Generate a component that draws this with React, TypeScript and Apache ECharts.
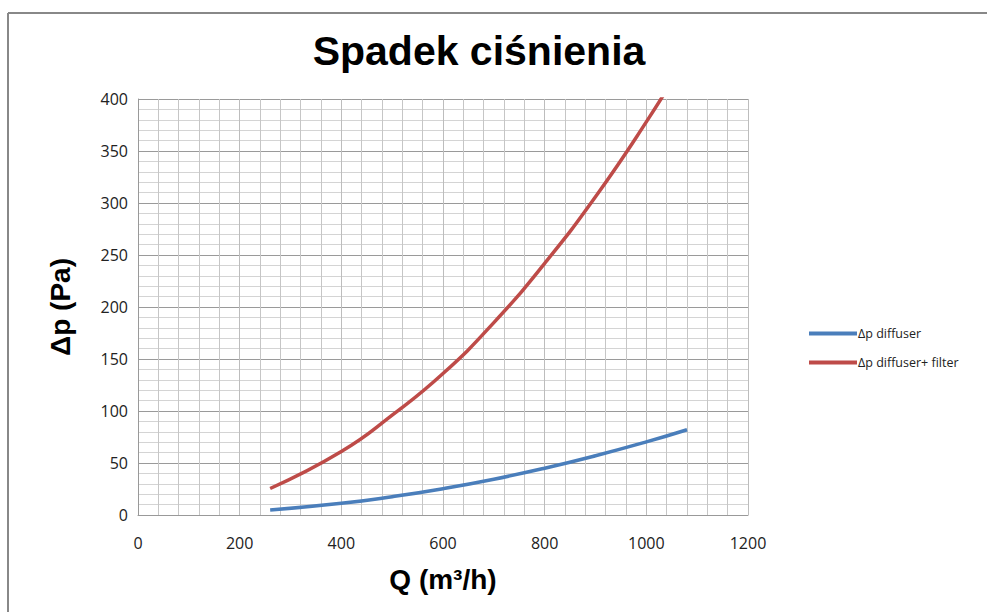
import React, { useEffect, useRef } from "react";
import * as echarts from "echarts";

const seriesNames = ["Δp diffuser", "Δp diffuser+ filter"];
const diffuserQ = [260, 400, 500, 600, 700, 800, 900, 1000, 1080];
const diffuserDp = [4.8, 11.2, 17.6, 25.3, 34.4, 45, 57, 70.3, 82];
const filterQ = [260, 400, 500, 600, 700, 800, 900, 1000, 1080];
const filterDp = [25.5, 61, 96, 136, 185, 242, 306, 378, 441];
const xTicks = [0, 200, 400, 600, 800, 1000, 1200];
const yTicks = [0, 50, 100, 150, 200, 250, 300, 350, 400];

export default function App() {
  const ref = useRef<HTMLDivElement>(null);
  useEffect(() => {
    if (!ref.current) return;
    const chart = echarts.init(ref.current, null, { renderer: "svg" });
    const tickFont = { fontFamily: "Open Sans", fontSize: 16, color: "#222" };
    chart.setOption({
      animation: false,
      backgroundColor: "#fff",
      title: {
        text: "Spadek ciśnienia",
        left: 474,
        top: 25,
        textAlign: "center",
        textStyle: { fontFamily: "Liberation Sans", fontWeight: "bold", fontSize: 41, color: "#000" },
      },
      graphic: [
        { type: "line", shape: { x1: 8, y1: 13, x2: 987, y2: 13 }, style: { stroke: "#888", lineWidth: 2 } },
        { type: "line", shape: { x1: 8, y1: 13, x2: 8, y2: 612 }, style: { stroke: "#888", lineWidth: 2 } },
      ],
      legend: {
        orient: "vertical",
        left: 804,
        top: 322,
        itemWidth: 48,
        itemHeight: 4,
        itemGap: 16,
        icon: "rect",
        textStyle: { fontFamily: "Open Sans", fontSize: 12.5, color: "#222", padding: [0, 0, 0, -4] },
        data: seriesNames,
      },
      grid: { left: 138, right: 239, top: 99, bottom: 97 },
      xAxis: {
        type: "value",
        min: xTicks[0],
        max: xTicks[xTicks.length - 1],
        interval: 200,
        name: "Q (m³/h)",
        nameLocation: "middle",
        nameGap: 50,
        nameTextStyle: { fontFamily: "Liberation Sans", fontWeight: "bold", fontSize: 28, color: "#000" },
        axisLine: { show: true, lineStyle: { color: "#999", width: 1 } },
        axisTick: { show: false },
        axisLabel: { ...tickFont, margin: 20, formatter: (v: number) => String(v) },
        splitLine: { show: true, lineStyle: { color: "#bdbdbd", width: 1 } },
        minorTick: { show: false, splitNumber: 5 },
        minorSplitLine: { show: true, lineStyle: { color: "#c6c6c6", width: 1 } },
      },
      yAxis: {
        type: "value",
        min: yTicks[0],
        max: yTicks[yTicks.length - 1],
        interval: 50,
        name: "Δp (Pa)",
        nameLocation: "middle",
        nameGap: 64,
        nameTextStyle: { fontFamily: "Liberation Sans", fontWeight: "bold", fontSize: 28, color: "#000" },
        axisLine: { show: true, lineStyle: { color: "#999", width: 1 } },
        axisTick: { show: false },
        axisLabel: { ...tickFont, margin: 10, formatter: (v: number) => String(v) },
        splitLine: { show: true, lineStyle: { color: "#9a9a9a", width: 1 } },
        minorTick: { show: false, splitNumber: 5 },
        minorSplitLine: { show: true, lineStyle: { color: "#d4d4d4", width: 1 } },
      },
      series: [
        {
          name: seriesNames[0],
          type: "line",
          smooth: true,
          symbol: "none",
          clip: true,
          data: diffuserQ.map((q, i) => [q, diffuserDp[i]]),
          lineStyle: { color: "#4a7ebb", width: 3.5 },
          itemStyle: { color: "#4a7ebb" },
        },
        {
          name: seriesNames[1],
          type: "line",
          smooth: true,
          symbol: "none",
          clip: true,
          data: filterQ.map((q, i) => [q, filterDp[i]]),
          lineStyle: { color: "#be4b48", width: 3.5 },
          itemStyle: { color: "#be4b48" },
        },
      ],
    });
    return () => chart.dispose();
  }, []);
  return <div ref={ref} style={{ width: 987, height: 612, position: "absolute", left: 0, top: 0 }} />;
}
